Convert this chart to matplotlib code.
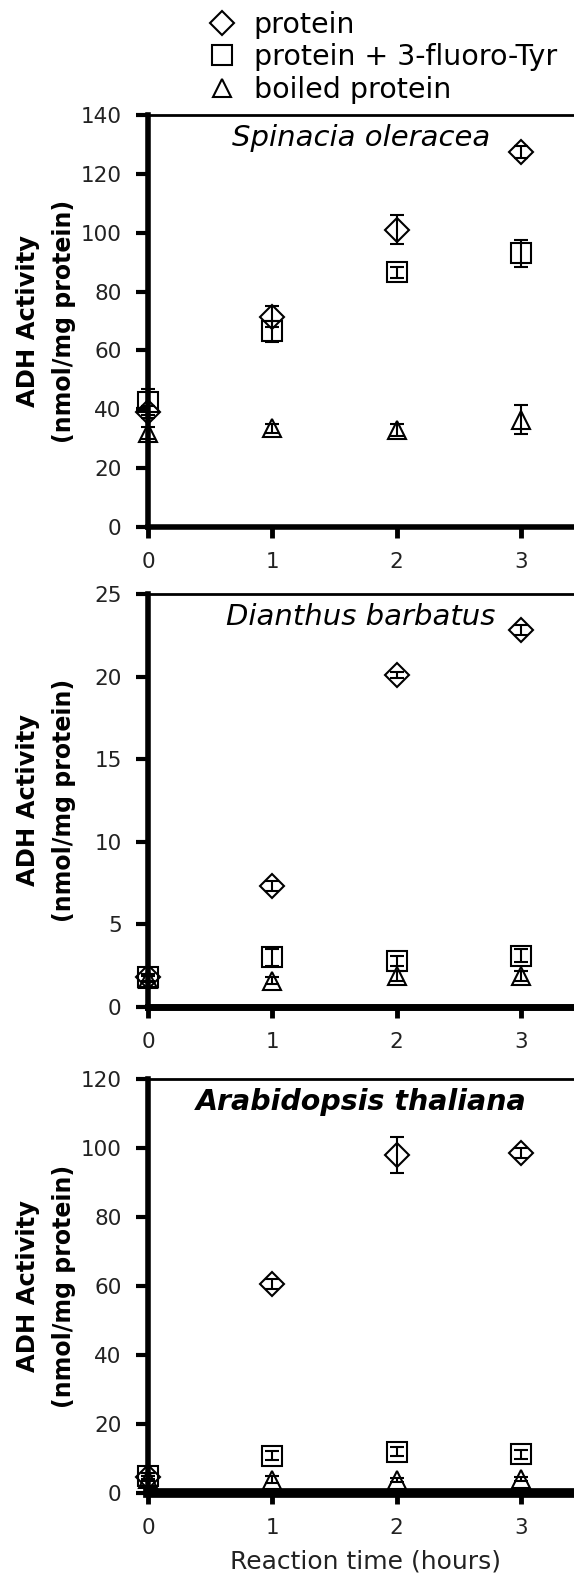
#ADH activity over reaction time for three plant species
import numpy as np
from matplotlib import pyplot as plt

#Reaction time (hours)
time_h = [0, 1, 2, 3]

#Spinacia oleracea
spin_protein = [39, 71.5, 101, 127.5]
spin_protein_err = [2, 3.5, 5, 2]
spin_fluoro = [42.5, 66.5, 86.5, 93]
spin_fluoro_err = [4.5, 3.5, 2, 4.5]
spin_boiled = [32, 33.5, 33, 36.5]
spin_boiled_err = [2, 1.5, 2, 5]

#Dianthus barbatus
dian_protein = [1.8, 7.3, 20.1, 22.8]
dian_protein_err = [0.2, 0.3, 0.2, 0.3]
dian_fluoro = [1.8, 3.0, 2.8, 3.1]
dian_fluoro_err = [0.2, 0.5, 0.3, 0.4]
dian_boiled = [1.7, 1.6, 1.9, 1.9]
dian_boiled_err = [0.2, 0.2, 0.3, 0.3]

#Arabidopsis thaliana
arab_protein = [4.5, 60.5, 98, 98.5]
arab_protein_err = [0.5, 1.5, 5.2, 1.5]
arab_fluoro = [4.8, 10.8, 12.0, 11.2]
arab_fluoro_err = [1, 1.3, 1.2, 1.3]
arab_boiled = [4.2, 3.9, 3.7, 4.0]
arab_boiled_err = [0.8, 1, 0.6, 0.6]

species = ["Spinacia oleracea", "Dianthus barbatus", "Arabidopsis thaliana"]
series_labels = ["protein", "protein + 3-fluoro-Tyr", "boiled protein"]
y_max = [140, 25, 120]
y_step = [20, 5, 20]

panels = [
    [(spin_protein, spin_protein_err), (spin_fluoro, spin_fluoro_err), (spin_boiled, spin_boiled_err)],
    [(dian_protein, dian_protein_err), (dian_fluoro, dian_fluoro_err), (dian_boiled, dian_boiled_err)],
    [(arab_protein, arab_protein_err), (arab_fluoro, arab_fluoro_err), (arab_boiled, arab_boiled_err)],
]

plt.rcParams['font.family'] = ['DejaVu Sans']

W, H = 574, 1579
fig = plt.figure(figsize=(W / 100, H / 100), dpi=100)

#axes boxes in pixels: (top, bottom)
boxes = [(115, 527), (594, 1007), (1079, 1493)]
left_px = 148

markers = ['D', 's', '^']
msizes = [12.5, 14.5, 13]
bottom_w = [4, 5, 7]

handles = []
for k in range(3):
    top, bot = boxes[k]
    ax = fig.add_axes([left_px / W, 1 - bot / H, (W - left_px) / W, (bot - top) / H])
    for j in range(3):
        vals, errs = panels[k][j]
        h = ax.errorbar(time_h, vals, yerr=errs, fmt=markers[j], ms=msizes[j],
                        mfc='none', mec='black', mew=1.5, ecolor='black',
                        elinewidth=1.5, capsize=5, capthick=1.5, clip_on=False,
                        zorder=3)
        #keep markers on the spine at x=0 visible
        h[0].set_clip_on(False)
        for art in list(h[1]) + list(h[2]):
            art.set_clip_on(False)
        if k == 0:
            handles.append(h[0])

    ax.set_xlim(0, (W - left_px) / 124.3)
    ax.set_ylim(0, y_max[k])
    ax.set_xticks(time_h)
    ax.set_yticks(np.arange(0, y_max[k] + 1, y_step[k]))
    ax.spines['right'].set_visible(False)
    ax.spines['top'].set_linewidth(2)
    ax.spines['left'].set_linewidth(4)
    ax.spines['bottom'].set_linewidth(bottom_w[k])
    ax.tick_params(axis='y', direction='out', length=9, width=3, pad=10, labelsize=15.5)
    ax.tick_params(axis='x', direction='out', length=8, width=3.5, pad=10, labelsize=15.5)
    for lbl in ax.get_yticklabels() + ax.get_xticklabels():
        lbl.set_color('#222222')

    ax.text(0.5, 0.945, species[k], transform=ax.transAxes, ha='center', va='center',
            fontsize=20.5 if k == 2 else 21, style='italic',
            fontweight='bold' if k == 2 else 'normal')

    #two line y label
    yc = 1 - (top + bot) / 2 / H
    fig.text(28 / W, yc, "ADH Activity", rotation=90, ha='center', va='center',
             fontsize=17.5, fontweight='bold')
    fig.text(64 / W, yc, "(nmol/mg protein)", rotation=90, ha='center', va='center',
             fontsize=17, fontweight='bold')

fig.text(366 / W, 1 - 1562 / H, "Reaction time (hours)", ha='center', va='center',
         fontsize=18, color='#222222')

fig.legend(handles, series_labels, loc='upper left', bbox_to_anchor=(208 / W, 1 - 11 / H),
           frameon=False, fontsize=20.5, handlelength=1.0, handletextpad=0.6,
           labelspacing=0.15, borderpad=0, borderaxespad=0)

fig.savefig('out.png', dpi=100)
